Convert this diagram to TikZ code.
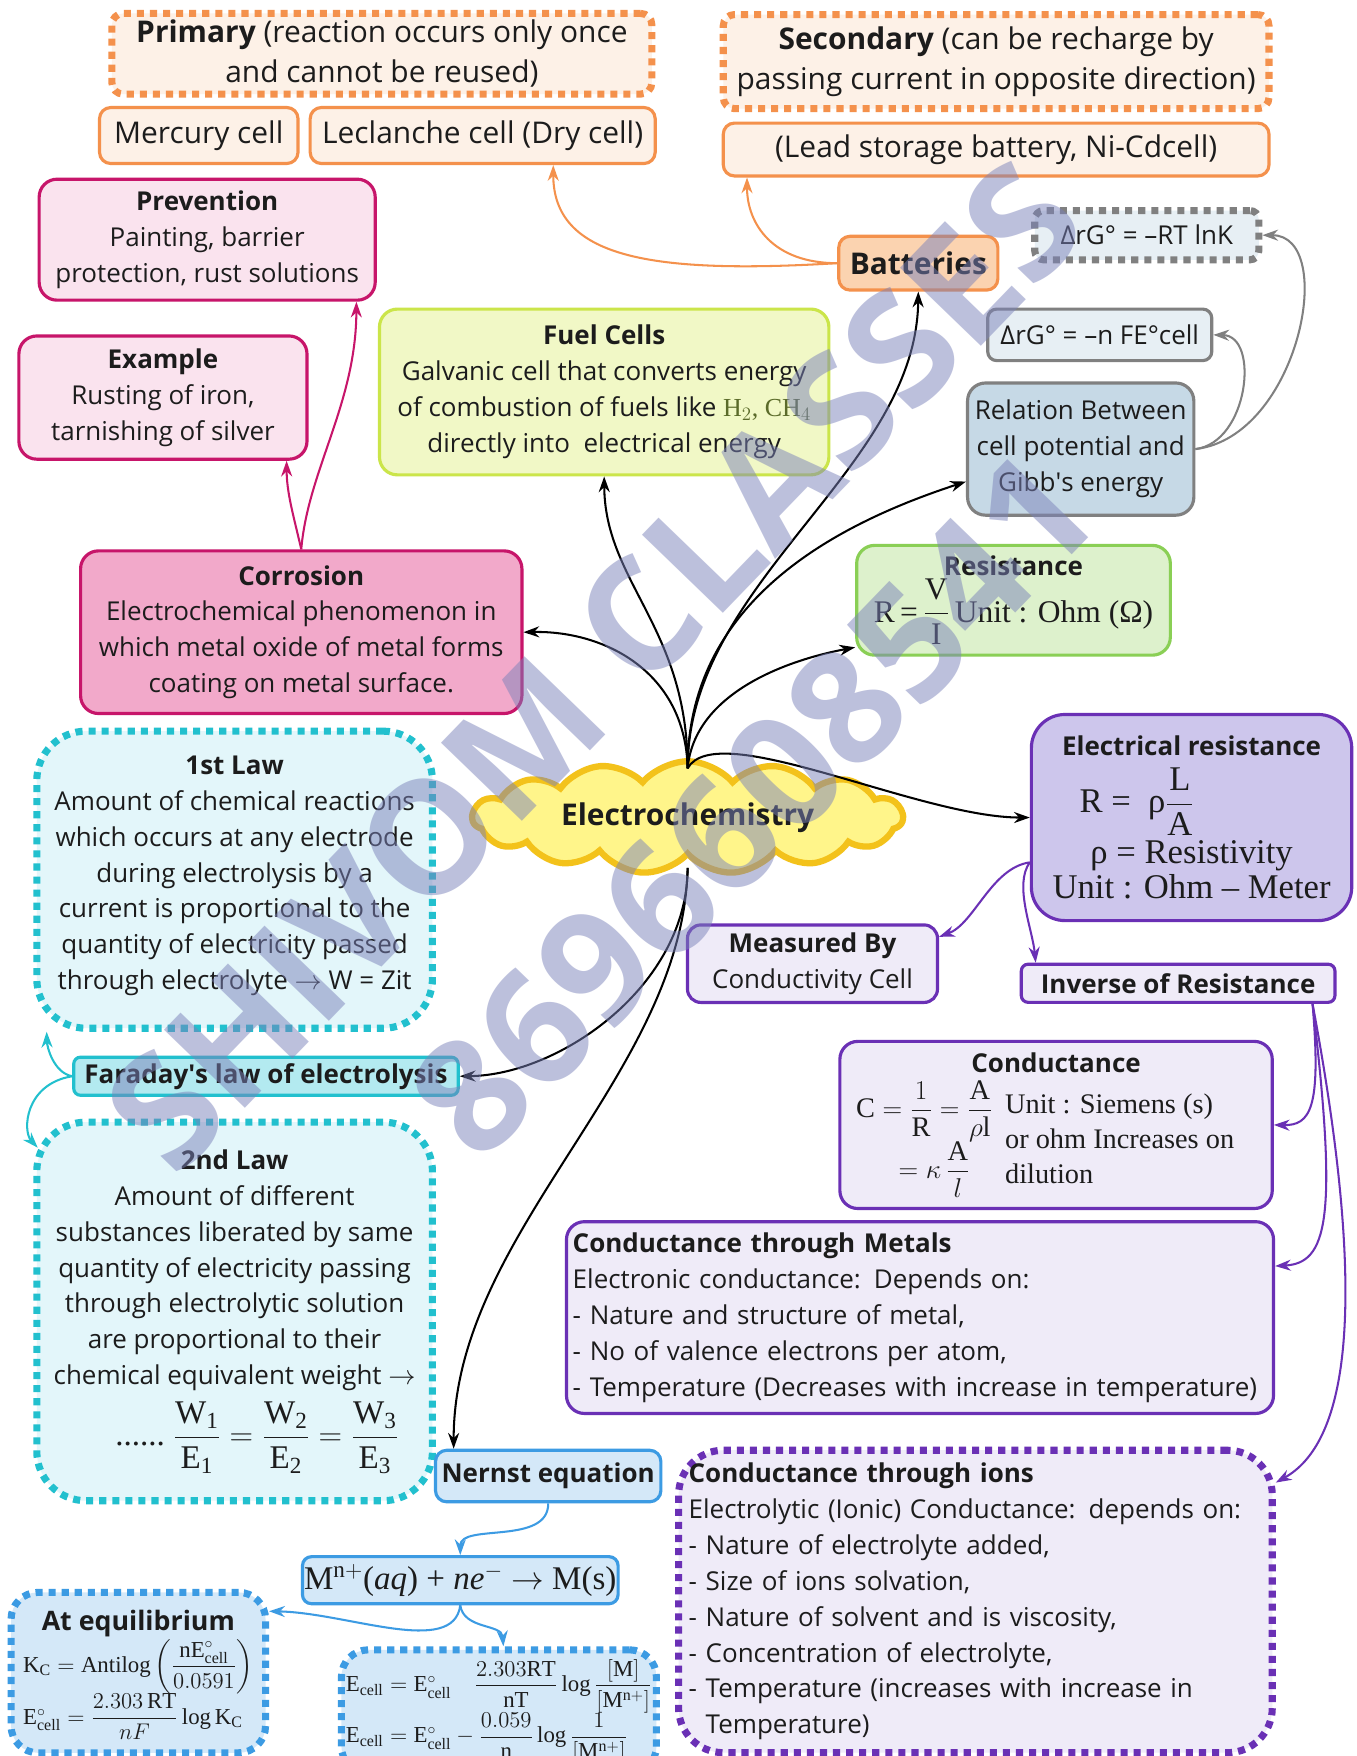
\documentclass[tikz,border=0pt]{standalone}
\usepackage{amsmath}
\usepackage{fontspec}
\setmainfont{Open Sans}
\setmathrm{Liberation Serif}
\newfontfamily\formfont{Liberation Serif}
\usetikzlibrary{arrows.meta,shapes.symbols}

\definecolor{vizInk}{HTML}{1C1C1C}
\definecolor{vizOrange}{HTML}{F4914C}
\definecolor{vizPeach}{HTML}{FDF1E7}
\definecolor{vizPeachDark}{HTML}{FBD3B0}
\definecolor{vizMagenta}{HTML}{C7156A}
\definecolor{vizPinkLight}{HTML}{FAE3EE}
\definecolor{vizPink}{HTML}{F2A9CA}
\definecolor{vizLime}{HTML}{CBE54A}
\definecolor{vizLimeLight}{HTML}{F1F8C6}
\definecolor{vizGray}{HTML}{808080}
\definecolor{vizIce}{HTML}{E7EFF4}
\definecolor{vizSteel}{HTML}{C6D9E6}
\definecolor{vizGreen}{HTML}{8ACF55}
\definecolor{vizGreenLight}{HTML}{DDF1CC}
\definecolor{vizCloud}{HTML}{FFF58A}
\definecolor{vizCloudEdge}{HTML}{F3C21B}
\definecolor{vizPurple}{HTML}{6A30B5}
\definecolor{vizLilac}{HTML}{CDC6EC}
\definecolor{vizLilacLight}{HTML}{EFEBF8}
\definecolor{vizCyan}{HTML}{22C0CE}
\definecolor{vizCyanLight}{HTML}{E3F6FA}
\definecolor{vizCyanMid}{HTML}{B3EAF0}
\definecolor{vizBlue}{HTML}{3C9BE3}
\definecolor{vizBlueLight}{HTML}{D4E8F8}
\definecolor{vizMark}{HTML}{7B82BA}
\definecolor{vizOlive}{HTML}{5B6B2A}

\newcommand{\bigtext}{\fontsize{19}{25.6}\selectfont}
\newcommand{\bodytext}{\fontsize{16.5}{22.8}\selectfont}
\newcommand{\eqfont}{\formfont\fontsize{22}{27}\selectfont}
\newcommand{\smalleq}{\formfont\fontsize{14.5}{18}\selectfont}

\tikzset{
  box/.style={draw, line width=2pt, rounded corners=0.4cm, align=center, inner sep=1pt, text=vizInk, font=\bodytext},
  dotbox/.style={box, line width=4.5pt, dash pattern=on 4.5pt off 3.8pt},
  link/.style={line width=1.3pt, -{Stealth[length=10pt,width=7pt]}},
}

\begin{document}
\begin{tikzpicture}[x=0.025cm,y=-0.025cm]
  \useasboundingbox (0,0) rectangle (1211,1568);
  \clip (0,0) rectangle (1211,1568);
  \fill[white] (0,0) rectangle (1211,1568);

  % batteries
  \node[dotbox, draw=vizOrange, fill=vizPeach, minimum width=12.05cm, minimum height=1.8cm, rounded corners=0.25cm, font=\bigtext] (prim) at (341,48) {\textbf{Primary} (reaction occurs only once\\and cannot be reused)};
  \node[box, draw=vizOrange, fill=vizPeach, minimum width=4.43cm, minimum height=1.25cm, rounded corners=0.25cm, font=\bigtext] (merc) at (177.5,121) {Mercury cell};
  \node[box, draw=vizOrange, fill=vizPeach, minimum width=7.7cm, minimum height=1.25cm, rounded corners=0.25cm, font=\bigtext] (lec) at (431,121) {Leclanche cell (Dry cell)};
  \node[dotbox, draw=vizOrange, fill=vizPeach, minimum width=12.18cm, minimum height=2.1cm, rounded corners=0.25cm, font=\bigtext] (sec) at (889.5,55) {\textbf{Secondary} (can be recharge by\\passing current in opposite direction)};
  \node[box, draw=vizOrange, fill=vizPeach, minimum width=12.18cm, minimum height=1.18cm, rounded corners=0.25cm, font=\bigtext] (lead) at (889.5,133.5) {(Lead storage battery, Ni-Cdcell)};
  \node[box, draw=vizOrange, fill=vizPeachDark, minimum width=3.55cm, minimum height=1.2cm, rounded corners=0.25cm, font=\bigtext\bfseries] (bat) at (820,235) {Batteries};

  % corrosion
  \node[box, draw=vizMagenta, fill=vizPinkLight, minimum width=7.5cm, minimum height=2.7cm] (prev) at (185,214) {\textbf{Prevention}\\Painting, barrier\\protection, rust solutions};
  \node[box, draw=vizMagenta, fill=vizPinkLight, minimum width=6.43cm, minimum height=2.75cm] (exmp) at (145.5,355) {\textbf{Example}\\Rusting of iron,\\tarnishing of silver};
  \node[box, draw=vizMagenta, fill=vizPink, minimum width=9.85cm, minimum height=3.63cm] (cor) at (269,564.5) {\textbf{Corrosion}\\Electrochemical phenomenon in\\which metal oxide of metal forms\\coating on metal surface.};

  % fuel cells, Gibbs energy, resistance
  \node[box, draw=vizLime, fill=vizLimeLight, minimum width=10.03cm, minimum height=3.7cm] (fuel) at (539.5,350) {\textbf{Fuel Cells}\\Galvanic cell that converts energy\\of combustion of fuels like {\formfont\color{vizOlive}H$_2$, CH$_4$}\\directly into\ \ electrical energy};
  \node[dotbox, draw=vizGray, fill=vizIce, minimum width=5cm, minimum height=1.1cm, rounded corners=0.2cm] (rtk) at (1024,210) {ΔrG° = –RT lnK};
  \node[box, draw=vizGray, fill=vizIce, minimum width=5cm, minimum height=1.15cm, rounded corners=0.2cm] (nfe) at (982,299) {ΔrG° = –n FE°cell};
  \node[box, draw=vizGray, fill=vizSteel, minimum width=5.05cm, minimum height=2.95cm] (rel) at (965,401) {Relation Between\\cell potential and\\Gibb\textquotesingle s energy};
  \node[box, draw=vizGreen, fill=vizGreenLight, minimum width=7cm, minimum height=2.45cm] (res) at (905,536) {\textbf{Resistance}\\[1pt]\formfont\fontsize{20}{22}\selectfont R\,=\,$\dfrac{\mathrm{V}}{\mathrm{I}}$\,Unit : Ohm (Ω)};

  % centre
  \node[cloud, cloud puffs=15, cloud puff arc=100, aspect=4.5, draw=vizCloudEdge, fill=vizCloud, line width=4pt, minimum width=9.6cm, minimum height=2.1cm, inner sep=0pt, text=vizInk, font=\bigtext\bfseries] (hub) at (614,730) {Electrochemistry};
  \coordinate (hubT) at (614,686);
  \coordinate (hubB) at (614,775);

  % conductance
  \node[box, draw=vizPurple, fill=vizLilac, minimum width=7.15cm, minimum height=4.6cm, rounded corners=0.75cm] (elr) at (1064,730) {\textbf{Electrical resistance}\\[7pt]
    \eqfont\makebox[5.4cm][l]{\hspace{0.2cm}R =\ \ ρ$\dfrac{\mathrm{L}}{\mathrm{A}}$}\\[2pt]
    \eqfont ρ = Resistivity\\
    \eqfont Unit : Ohm – Meter};
  \node[box, draw=vizPurple, fill=vizLilacLight, minimum width=5.58cm, minimum height=1.73cm, rounded corners=0.3cm] (meas) at (725.5,860.5) {\textbf{Measured By}\\Conductivity Cell};
  \node[box, draw=vizPurple, fill=vizLilacLight, minimum width=7cm, minimum height=0.85cm, rounded corners=0.15cm] (inv) at (1052,878) {\textbf{Inverse of Resistance}};
  \node[box, draw=vizPurple, fill=vizLilacLight, minimum width=9.65cm, minimum height=3.73cm] (con) at (943,1004.5) {\textbf{Conductance}\\[4pt]
    \formfont\fontsize{18}{22}\selectfont $\begin{array}{@{}l@{}}\mathrm{C}=\dfrac{1}{\mathrm{R}}=\dfrac{\mathrm{A}}{\rho\mathrm{l}}\\[2pt] \hspace{0.95cm}=\kappa\,\dfrac{\mathrm{A}}{l}\end{array}$\hspace{8pt}%
    \parbox[c]{5.6cm}{\fontsize{18}{22.3}\selectfont Unit : Siemens (s)\\or ohm Increases on\\dilution}};
  \node[box, draw=vizPurple, fill=vizLilacLight, minimum width=15.78cm, minimum height=4.28cm, align=left, text width=15.5cm] (met) at (821.5,1176.5) {\textbf{Conductance through Metals}\\Electronic conductance: Depends on:\\- Nature and structure of metal,\\- No of valence electrons per atom,\\- Temperature (Decreases with increase in temperature)};
  \node[dotbox, draw=vizPurple, fill=vizLilacLight, minimum width=13.25cm, minimum height=6.75cm, rounded corners=1cm, align=left, text width=12.8cm] (ion) at (871,1430) {\textbf{Conductance through ions}\\Electrolytic (Ionic) Conductance: depends on:\\- Nature of electrolyte added,\\- Size of ions solvation,\\- Nature of solvent and is viscosity,\\- Concentration of electrolyte,\\- Temperature (increases with increase in\\\phantom{- }Temperature)};

  % faraday
  \node[dotbox, draw=vizCyan, fill=vizCyanLight, minimum width=8.83cm, minimum height=6.63cm, rounded corners=1.1cm] (law1) at (209.5,785.5) {\textbf{1st Law}\\Amount of chemical reactions\\which occurs at any electrode\\during electrolysis by a\\current is proportional to the\\quantity of electricity passed\\through electrolyte $\rightarrow$ W = Zit\\[-14pt]};
  \node[box, draw=vizCyan, fill=vizCyanMid, minimum width=8.58cm, minimum height=0.85cm, rounded corners=0.15cm] (far) at (237.5,961) {\textbf{Faraday\textquotesingle s law of electrolysis}};
  \node[dotbox, draw=vizCyan, fill=vizCyanLight, minimum width=8.83cm, minimum height=8.45cm, rounded corners=1.1cm] (law2) at (209.5,1171) {\textbf{2nd Law}\\Amount of different\\substances liberated by same\\quantity of electricity passing\\through electrolytic solution\\are proportional to their\\chemical equivalent weight $\rightarrow$\\[6pt]
    \formfont\fontsize{21}{24}\selectfont \hspace{1cm}......\ $\dfrac{\mathrm{W_1}}{\mathrm{E_1}}=\dfrac{\mathrm{W_2}}{\mathrm{E_2}}=\dfrac{\mathrm{W_3}}{\mathrm{E_3}}$};

  % nernst
  \node[box, draw=vizBlue, fill=vizBlueLight, minimum width=5.03cm, minimum height=1.15cm, rounded corners=0.25cm, font=\bodytext\bfseries] (ner) at (489.5,1318) {Nernst equation};
  \node[box, draw=vizBlue, fill=vizBlueLight, minimum width=6.8cm, minimum height=1.05cm, rounded corners=0.2cm] (mrx) at (411,1411) {\formfont\fontsize{21}{24}\selectfont M$^{\mathrm{n+}}$(\textit{aq}) + \textit{ne}$^{-}$ $\rightarrow$ M(s)};
  \node[dotbox, draw=vizBlue, fill=vizBlueLight, minimum width=5.68cm, minimum height=3.58cm, rounded corners=0.6cm] (ateq) at (123.5,1493.5) {\begin{tabular}{@{}l@{}}
    \multicolumn{1}{@{}c@{}}{\fontsize{17}{20}\selectfont\bfseries At equilibrium}\\[-1pt]
    \smalleq $\mathrm{K_C} = \mathrm{Antilog}\left(\dfrac{\mathrm{nE^{\circ}_{cell}}}{0.0591}\right)$\\[1pt]
    \smalleq $\mathrm{E^{\circ}_{cell}} = \dfrac{2.303\,\mathrm{RT}}{nF}\log \mathrm{K_C}$
  \end{tabular}};
  \node[dotbox, draw=vizBlue, fill=vizBlueLight, minimum width=7.03cm, anchor=north, inner ysep=6pt, rounded corners=0.6cm] (ecl) at (445.5,1470) {\begin{tabular}{@{}l@{}}
    \smalleq $\mathrm{E_{cell}} = \mathrm{E^{\circ}_{cell}}\quad \dfrac{2.303\mathrm{RT}}{\mathrm{nT}}\log\dfrac{[\mathrm{M}]}{[\mathrm{M^{n+}}]}$\\[2pt]
    \smalleq $\mathrm{E_{cell}} = \mathrm{E^{\circ}_{cell}} - \dfrac{0.059}{\mathrm{n}}\log\dfrac{1}{[\mathrm{M^{n+}}]}$
  \end{tabular}};

  % links from the centre
  \draw[link] (hubT) .. controls (614,520) and (818,420) .. (bat.south);
  \draw[link] (hubT) .. controls (614,560) and (540,520) .. (fuel.south);
  \draw[link] (hubT) .. controls (614,540) and (740,470) .. ([yshift=-0.725cm]rel.west);
  \draw[link] (hubT) .. controls (620,620) and (700,590) .. ([yshift=-1.05cm]res.west);
  \draw[link] (hubT) .. controls (612,600) and (540,563) .. (cor.east);
  \draw[link] (hubT) .. controls (640,640) and (820,730) .. (elr.west);
  \draw[link] (hubB) .. controls (614,880) and (500,960) .. (far.east);
  \draw[link] (hubB) .. controls (610,960) and (405,1100) .. ([xshift=-2.11cm]ner.north);

  % orange links
  \draw[link, vizOrange] (bat.west) .. controls (580,245) and (494,230) .. ([xshift=1.575cm]lec.south);
  \draw[link, vizOrange] (bat.west) .. controls (690,235) and (667,200) .. ([xshift=-5.56cm]lead.south);

  % magenta links
  \draw[link, vizMagenta] (cor.north) .. controls (262,460) and (256,440) .. ([xshift=2.76cm]exmp.south);
  \draw[link, vizMagenta] (cor.north) .. controls (275,420) and (318,360) .. ([xshift=3.33cm]prev.south);

  % gray links
  \draw[link, vizGray] (rel.east) .. controls (1115,395) and (1125,300) .. (nfe.east);
  \draw[link, vizGray] (rel.east) .. controls (1160,390) and (1195,210) .. (rtk.east);

  % purple links
  \draw[link, vizPurple] ([yshift=-1cm]elr.west) .. controls (885,775) and (870,825) .. ([yshift=-0.3cm]meas.north east);
  \draw[link, vizPurple] ([yshift=-1cm]elr.west) .. controls (905,790) and (922,830) .. ([xshift=-3.18cm]inv.north);
  \draw[link, vizPurple] ([xshift=3cm]inv.south) .. controls (1180,990) and (1170,1005) .. (con.east);
  \draw[link, vizPurple] ([xshift=3cm]inv.south) .. controls (1195,1090) and (1185,1128) .. ([yshift=1.15cm]met.east);
  \draw[link, vizPurple] ([xshift=3cm]inv.south) .. controls (1225,1180) and (1200,1290) .. ([yshift=-0.8cm]ion.north east);

  % cyan links
  \draw[link, vizCyan] (far.west) .. controls (48,958) and (42,935) .. ([xshift=0.3cm]law1.south west);
  \draw[link, vizCyan] (far.west) .. controls (22,968) and (20,1010) .. ([xshift=0.1cm,yshift=-0.65cm]law2.north west);

  % blue links
  \draw[link, vizBlue] (ner.south) .. controls (490,1380) and (411,1360) .. (mrx.north);
  \draw[link, vizBlue] (mrx.south) .. controls (405,1480) and (310,1440) .. ([yshift=-0.5cm]ateq.north east);
  \draw[link, vizBlue] (mrx.south) .. controls (414,1455) and (448,1450) .. ([xshift=0.1cm]ecl.north);

  % watermark
  \node[rotate=46, text=vizMark, opacity=0.5, font=\fontsize{100}{100}\selectfont\bfseries] (mark1) at (530,595) {SHIVOM CLASSES};
  \node[rotate=46, text=vizMark, opacity=0.5, font=\fontsize{100}{100}\selectfont\bfseries] (mark2) at (672,718) {8696608541};
\end{tikzpicture}
\end{document}
